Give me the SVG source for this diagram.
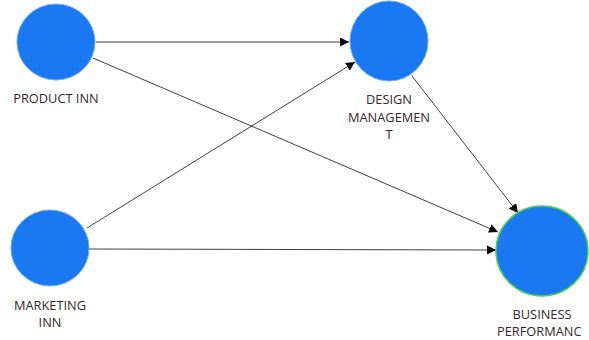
<svg xmlns="http://www.w3.org/2000/svg" width="589" height="340" viewBox="0 0 589 340">
<style>
.node{fill:#1a78f2;stroke:#6aaaf5;stroke-width:1}
.green{stroke:#4cd04c;stroke-width:1.5}
.lbl{font-family:"Open Sans","Noto Sans",sans-serif;font-size:12.8px;fill:#33282a;text-anchor:middle}
.edge{stroke:#404040;stroke-width:1;fill:none;marker-end:url(#arr)}
</style>
<defs>
<marker id="arr" viewBox="0 0 10 10" refX="10" refY="5" markerWidth="9" markerHeight="9" markerUnits="userSpaceOnUse" orient="auto">
<path d="M0,0 L10,5 L0,10 z" fill="#000"/>
</marker>
</defs>
<rect width="589" height="340" fill="#fff"/>
<g id="connectors">
<line class="edge" x1="96" y1="42" x2="349" y2="42"/>
<line class="edge" x1="93" y1="58" x2="498" y2="232"/>
<line class="edge" x1="87" y1="228" x2="355" y2="62"/>
<line class="edge" x1="89" y1="249" x2="496" y2="250"/>
<line class="edge" x1="412" y1="76" x2="518" y2="213"/>
</g>
<g id="product-inn">
<ellipse class="node" cx="56" cy="42" rx="39" ry="38"/>
<text class="lbl" x="56" y="103">PRODUCT INN</text>
</g>
<g id="design-management">
<ellipse class="node" cx="389" cy="41" rx="39" ry="40"/>
<text class="lbl" x="389" y="104">DESIGN</text>
<text class="lbl" x="389" y="122">MANAGEMEN</text>
<text class="lbl" x="389" y="139">T</text>
</g>
<g id="marketing-inn">
<ellipse class="node" cx="50" cy="248" rx="39" ry="38"/>
<text class="lbl" x="50" y="310">MARKETING</text>
<text class="lbl" x="50" y="327">INN</text>
</g>
<g id="business-performance">
<ellipse class="node green" cx="542" cy="251" rx="46" ry="45"/>
<text class="lbl" x="542" y="319">BUSINESS</text>
<text class="lbl" x="497" y="336" style="text-anchor:start">PERFORMANC</text>
</g>
</svg>
